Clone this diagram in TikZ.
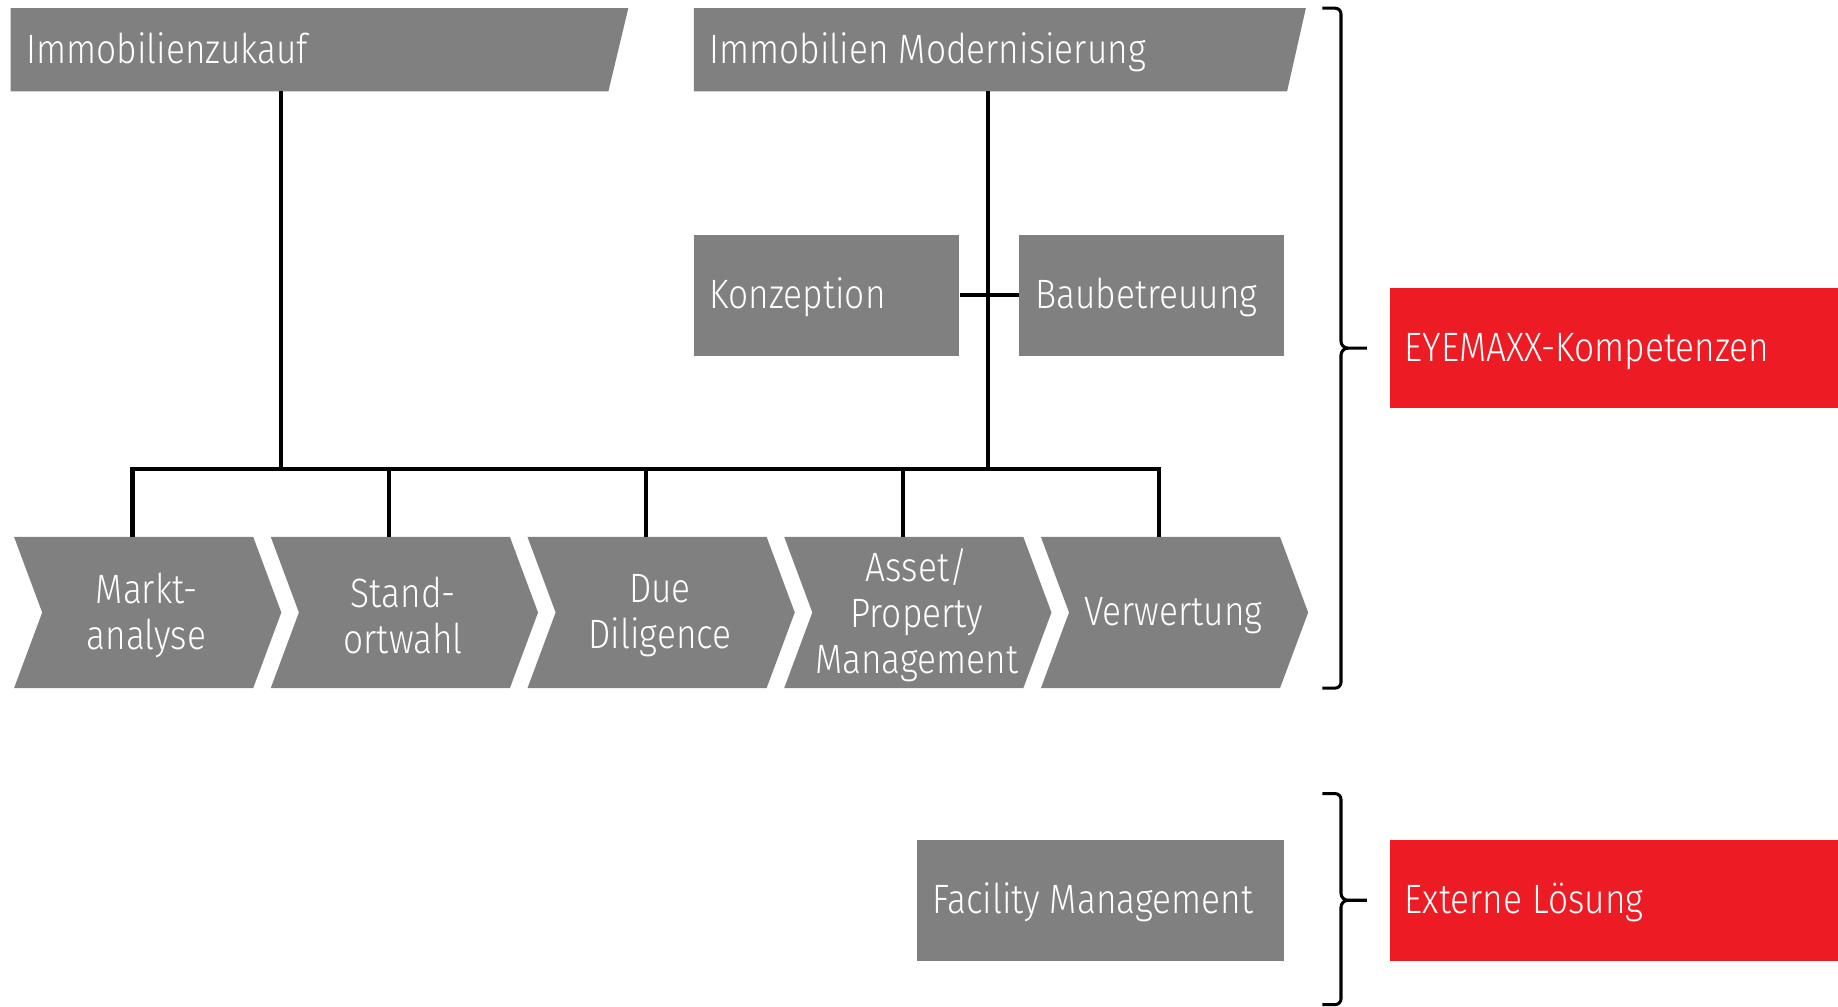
\documentclass[tikz,border=0pt]{standalone}
\usepackage{fontspec}
\setmainfont{Fira Sans}[UprightFont=* Light, FakeStretch=0.86]
\definecolor{boxgray}{HTML}{808080}
\definecolor{eyered}{HTML}{ED1C24}
\begin{document}
\begin{tikzpicture}[x=0.5pt,y=-0.5pt,
  lbl/.style={text=white, font=\fontsize{17.5}{19.5}\selectfont, inner sep=0pt},
  gbox/.style={fill=boxgray, inner sep=0pt, anchor=north west},
  rbox/.style={fill=eyered, inner sep=0pt, anchor=north west},
  conn/.style={line width=1.75pt},
  bracestyle/.style={line width=1.3pt}]
\useasboundingbox (0,0) rectangle (1568,859);

% header shapes
\fill[boxgray] (9,7) -- (536,7) -- (519,78) -- (9,78) -- cycle;
\node[lbl, anchor=base west] (zuk) at (22,54) {Immobilienzukauf};
\fill[boxgray] (592,7) -- (1114,7) -- (1098,78) -- (592,78) -- cycle;
\node[lbl, anchor=base west] (mod) at (605,54) {Immobilien Modernisierung};
\coordinate (zukB) at (240,78);
\coordinate (modB) at (843,78);

% Konzeption / Baubetreuung
\node[gbox, minimum width=113pt, minimum height=51.5pt] (konz) at (592,200) {};
\node[lbl, anchor=base west] (konzT) at (605,263) {Konzeption};
\node[gbox, minimum width=113pt, minimum height=51.5pt] (bau) at (869,200) {};
\node[lbl, anchor=base west] (bauT) at (883,263) {Baubetreuung};

% chevrons
\foreach \i/\t [count=\k from 0] in {1/{Markt-\\analyse},2/{Stand-\\ortwahl},3/{Due\\Diligence},4/{Asset/\\Property\\Management},5/{Verwertung}}{
  \pgfmathsetmacro{\xo}{12+219*\k}
  \fill[boxgray] (\xo,458) -- (\xo+204,458) -- (\xo+228,522.5) -- (\xo+204,587) -- (\xo,587) -- (\xo+24,522.5) -- cycle;
  \node[lbl, align=center] (c\i) at (\xo+113,525) {\t};
  \coordinate (t\i) at (\xo+101,458);
}

% connectors
\coordinate (busJ) at (843,400);
\draw[conn] (zukB) -- (zukB |- busJ);
\draw[conn] (modB) -- (busJ);
\draw[conn] (konz.east) -- (bau.west);
\draw[conn] (t1) -- (t1 |- busJ) -- (t5 |- busJ) -- (t5);
\foreach \i in {2,3,4}{
  \draw[conn] (t\i) -- (t\i |- busJ);
}

% braces
\draw[bracestyle] (1128,7) -- (1139,7) to[out=0,in=90] (1144,12) -- (1144,291) to[out=-90,in=180] (1150,297) -- (1166,297);
\draw[bracestyle] (1150,297) to[out=180,in=90] (1144,303) -- (1144,582) to[out=-90,in=0] (1139,587) -- (1128,587);
\draw[bracestyle] (1128,677) -- (1139,677) to[out=0,in=90] (1144,682) -- (1144,762) to[out=-90,in=180] (1150,768) -- (1166,768);
\draw[bracestyle] (1150,768) to[out=180,in=90] (1144,774) -- (1144,852) to[out=-90,in=0] (1139,857) -- (1128,857);

% right boxes
\node[rbox, minimum width=191.5pt, minimum height=51.5pt] (eye) at (1185,245) {};
\node[lbl, anchor=base west] (eyeT) at (1198,308) {EYEMAXX-Kompetenzen};
\node[gbox, minimum width=156.5pt, minimum height=51.5pt] (fac) at (782,716) {};
\node[lbl, anchor=base west] (facT) at (795,779) {Facility Management};
\node[rbox, minimum width=191.5pt, minimum height=51.5pt] (ext) at (1185,716) {};
\node[lbl, anchor=base west] (extT) at (1198,779) {Externe Lösung};
\end{tikzpicture}
\end{document}
